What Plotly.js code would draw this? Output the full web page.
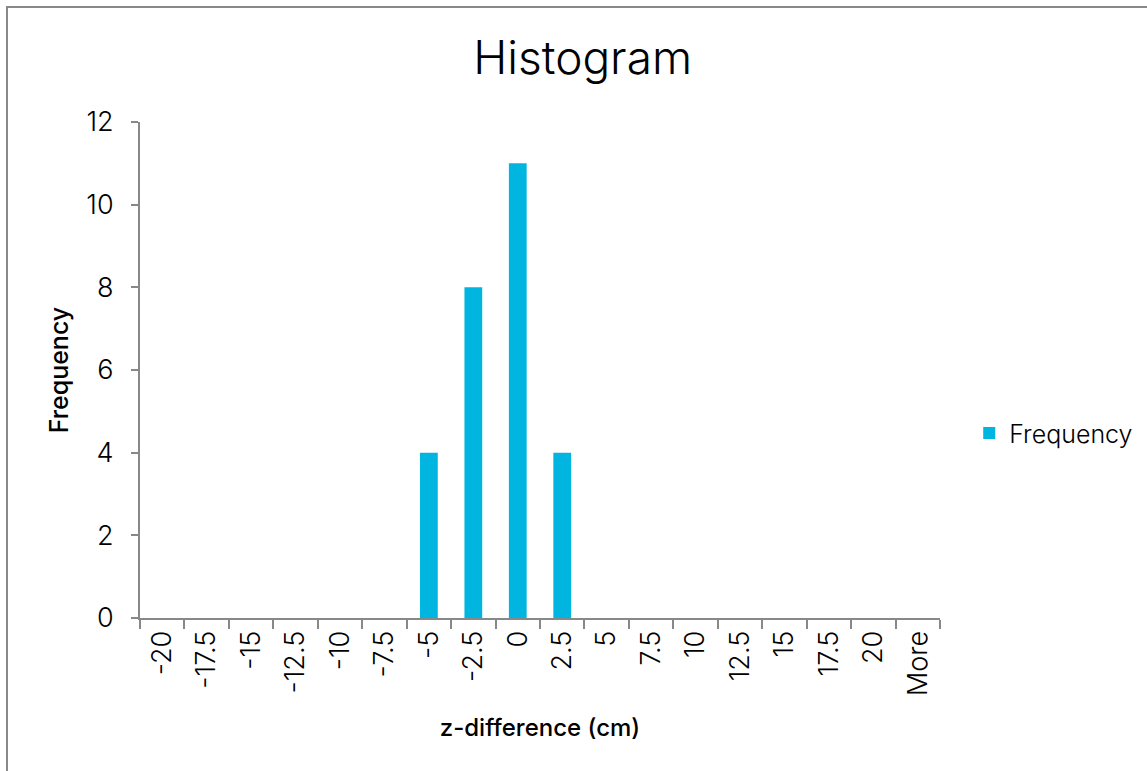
<!DOCTYPE html>
<html>
<head>
<meta charset="utf-8">
<script src="https://cdn.plot.ly/plotly-3.0.1.min.js"></script>
<style>
  html, body { margin: 0; padding: 0; background: #fff; }
  #wrap { position: relative; width: 1147px; height: 771px; overflow: hidden; }
  #frame { position: absolute; left: 6px; top: 6px; width: 1160px; height: 800px; border: 2px solid #888; box-sizing: border-box; pointer-events: none; }
  #chart { position: absolute; left: 0; top: 0; width: 1147px; height: 771px; }
</style>
</head>
<body>
<div id="wrap">
  <div id="chart"></div>
  <div id="frame"></div>
</div>
<script>
const categories = ["-20", "-17.5", "-15", "-12.5", "-10", "-7.5", "-5", "-2.5", "0", "2.5", "5", "7.5", "10", "12.5", "15", "17.5", "20", "More"];
const frequency = [0, 0, 0, 0, 0, 0, 4, 8, 11, 4, 0, 0, 0, 0, 0, 0, 0, 0];
const seriesName = "Frequency";
const chartTitle = "Histogram";
const xTitle = "z-difference (cm)";
const yTitle = "Frequency";

const fontFam = "Inter, 'Liberation Sans', Arial, sans-serif";

const trace = {
  type: "bar",
  x: categories,
  y: frequency,
  name: seriesName,
  marker: { color: "#00B6E0" },
  showlegend: true,
  hoverinfo: "x+y"
};

const layout = {
  width: 1147,
  height: 771,
  margin: { l: 140, r: 207, t: 122, b: 153, pad: 0, autoexpand: false },
  paper_bgcolor: "#ffffff",
  plot_bgcolor: "#ffffff",
  font: { family: fontFam, color: "#000", size: 24, weight: 300 },
  bargap: 0.6,
  title: {
    text: chartTitle,
    font: { family: fontFam, size: 46, color: "#000", weight: 300 },
    x: 0.508, xanchor: "center",
    y: 0.925, yanchor: "middle"
  },
  xaxis: {
    type: "category",
    tickson: "boundaries",
    ticks: "outside",
    ticklen: 9,
    tickwidth: 2,
    tickcolor: "#888",
    showline: true,
    linecolor: "#888",
    linewidth: 2,
    showgrid: false,
    zeroline: false,
    tickangle: -90,
    automargin: false,
    tickfont: { family: fontFam, size: 27, color: "#000", weight: 300 },
    title: { text: xTitle, font: { family: fontFam, size: 24, color: "#000", weight: 500 }, standoff: 24 }
  },
  yaxis: {
    range: [0, 12],
    dtick: 2,
    ticks: "outside",
    ticklen: 7,
    tickwidth: 2,
    tickcolor: "#888",
    showline: true,
    linecolor: "#888",
    linewidth: 2,
    showgrid: false,
    zeroline: false,
    automargin: false,
    tickfont: { family: fontFam, size: 27, color: "#000", weight: 300 },
    ticklabelstandoff: 12,
    title: { text: yTitle, font: { family: fontFam, size: 25, color: "#000", weight: 500 }, standoff: 11 }
  },
  legend: {
    xref: "container", yref: "container",
    x: 0.845, xanchor: "left",
    y: 0.438, yanchor: "middle",
    font: { family: fontFam, size: 25, color: "#000", weight: 300 },
    itemwidth: 30,
    bgcolor: "rgba(0,0,0,0)"
  }
};

Plotly.newPlot("chart", [trace], layout, { displayModeBar: false, responsive: false });
</script>
</body>
</html>
